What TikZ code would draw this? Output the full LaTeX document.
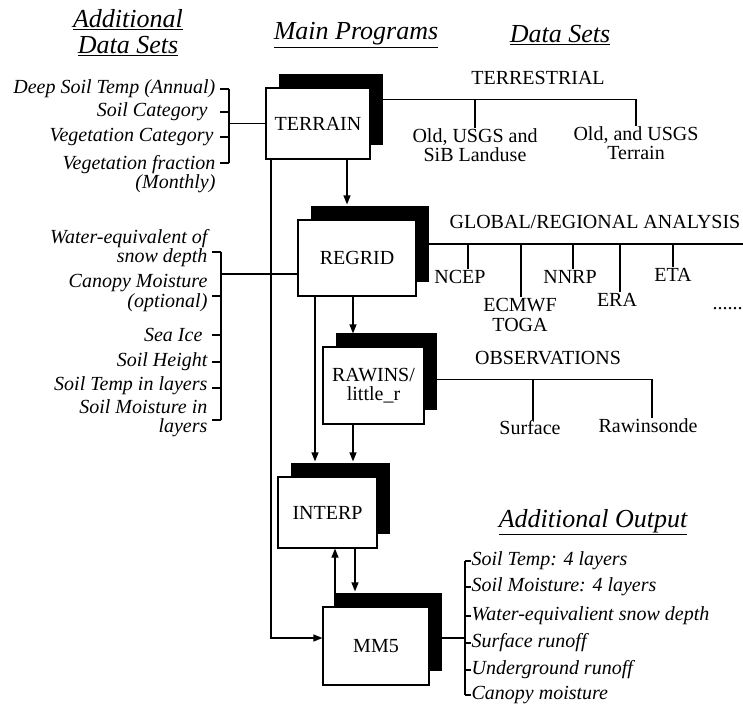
\documentclass[tikz,border=0pt]{standalone}
\usepackage{fontspec}
\setmainfont{Liberation Serif}
\usetikzlibrary{shadows,arrows.meta}

\begin{document}
\begin{tikzpicture}
  [x=1pt,y=-1pt,line width=1.2pt,>={Triangle[width=7pt,length=9pt]},
   every node/.style={inner sep=0pt,font=\fontsize{20}{19.5}\selectfont},
   prog/.style={draw,fill=white,align=center,
     general shadow={shadow scale=1,shadow xshift=13pt,shadow yshift=14pt,fill=black}},
   head/.style={font=\fontsize{26}{26}\selectfont\itshape,align=center},
   item/.style={font=\fontsize{20}{19.5}\selectfont\itshape,align=right,anchor=east},
   outp/.style={font=\fontsize{20}{19.5}\selectfont\itshape,anchor=west},
   set/.style={align=center}]
  \useasboundingbox (0,0) rectangle (743,710);

  \node[head] (addhd) at (128,33) {\underline{Additional}\\\underline{Data Sets}};
  \node[head] (mainhd) at (356,35) {\underline{Main Programs}};
  \node[head] (sethd) at (560,35) {\underline{Data Sets}};
  \node[head] (outhd) at (593,522) {\underline{Additional Output}};

  \node[prog,minimum width=104,minimum height=71] (terrain) at (318,123.5) {TERRAIN};
  \node[prog,minimum width=118,minimum height=76] (regrid) at (357,258) {REGRID};
  \node[prog,minimum width=101,minimum height=77] (rawins) at (373.5,385.5) {RAWINS/\\little\_r};
  \node[prog,minimum width=99,minimum height=71] (interp) at (327.5,512.5) {INTERP};
  \node[prog,minimum width=106,minimum height=78] (mm5) at (376,646) {MM5};

  \node (terr) at (538,78) {TERRESTRIAL};
  \node[set] (lu) at (475,145) {Old, USGS and\\SiB Landuse};
  \node[set] (tr) at (636,143) {Old, and USGS\\Terrain};

  \node (glob) at (595,222) {GLOBAL/REGIONAL ANALYSIS};
  \node (ncep) at (460,277) {NCEP};
  \node[set] (ecmwf) at (520,315) {ECMWF\\TOGA};
  \node (nnrp) at (570,277) {NNRP};
  \node (era) at (617,300) {ERA};
  \node (eta) at (673,275) {ETA};
  \node[anchor=west] (more) at (712,309) {......};

  \node (obs) at (548,358) {OBSERVATIONS};
  \node (surf) at (530,428) {Surface};
  \node (raw) at (648,426) {Rawinsonde};

  \node[item] (a1) at (216,89) {Deep Soil Temp (Annual)};
  \node[item] (a2) at (208,112) {Soil Category};
  \node[item] (a3) at (214,137) {Vegetation Category};
  \node[item] (a4) at (216,174) {Vegetation fraction\\(Monthly)};

  \node[item] (b1) at (208,248) {Water-equivalent of\\snow depth};
  \node[item] (b2) at (208,293) {Canopy Moisture\\(optional)};
  \node[item] (b3) at (203,335) {Sea Ice};
  \node[item] (b4) at (208,362) {Soil Height};
  \node[item] (b5) at (208,386) {Soil Temp in layers};
  \node[item] (b6) at (208,418) {Soil Moisture in\\layers};

  \node[outp] (o1) at (471,561) {Soil Temp: 4 layers};
  \node[outp] (o2) at (471,587) {Soil Moisture: 4 layers};
  \node[outp] (o3) at (471,616) {Water-equivalient snow depth};
  \node[outp] (o4) at (471,643) {Surface runoff};
  \node[outp] (o5) at (471,670) {Underground runoff};
  \node[outp] (o6) at (471,695) {Canopy moisture};

  \coordinate (ta) at (229,89);
  \coordinate (tb) at (229,163);
  \coordinate (ra) at (221,252);
  \coordinate (rb) at (221,420);
  \coordinate (rm) at (221,274);

  \foreach \y in {89,112,137,163}
    \draw (220,\y) -- (ta |- 0,\y);
  \draw (ta) -- (tb);
  \draw (ta |- terrain.west) -- (terrain.west);

  \foreach \y in {252,296,335,362,388,420}
    \draw (212,\y) -- (ra |- 0,\y);
  \draw (ra) -- (rb);
  \draw (rm) -- (rm -| regrid.west);

  \draw (terrain.east) ++(0,-24) coordinate (tl) -| (tr.north);
  \foreach \n/\s in {lu/0}
    \draw (\n.north) ++(\s,0) coordinate (d) -- (d |- tl);

  \draw (regrid.east) ++(0,-14) coordinate (gl) -- (743,244);
  \foreach \n/\s in {ncep/8,ecmwf/1,nnrp/3,era/3,eta/0,more/18}
    \draw (\n.north) ++(\s,-1) coordinate (d) -- (d |- gl);

  \draw (rawins.east) ++(0,-6) coordinate (ol) -| ([xshift=4pt]raw.north);
  \draw (surf.north) ++(3,0) coordinate (d) -- (d |- ol);

  \draw (o1.west) ++(-6,0) coordinate (oa) -- (o1.west);
  \draw (o6.west) ++(-6,0) coordinate (ob) -- (o6.west);
  \draw (oa) -- (ob);
  \foreach \n in {o2,o3,o4,o5}
    \draw (\n.west -| oa) -- (\n.west);
  \draw ([yshift=8pt]mm5.east) -- ([yshift=8pt]mm5.east -| oa);

  \draw[->] ([xshift=29pt]terrain.south) -- ([xshift=-10pt,yshift=15pt]regrid.north);
  \draw[->] ([xshift=-42pt]regrid.south) -- ([xshift=-12.5pt,yshift=15pt]interp.north);
  \draw[->] ([xshift=-4pt]regrid.south) -- ([xshift=-20.5pt,yshift=13pt]rawins.north);
  \draw[->] ([xshift=-20.5pt]rawins.south) -- ([xshift=25.5pt,yshift=15pt]interp.north);
  \draw[->] ([xshift=27.5pt]interp.south) -- ([xshift=-21pt,yshift=15pt]mm5.north);
  \draw[->] ([xshift=-41pt]mm5.north) -- ([xshift=7.5pt]interp.south);
  \draw[->] ([xshift=-47pt]terrain.south) |- ([yshift=8pt]mm5.west);
\end{tikzpicture}
\end{document}
